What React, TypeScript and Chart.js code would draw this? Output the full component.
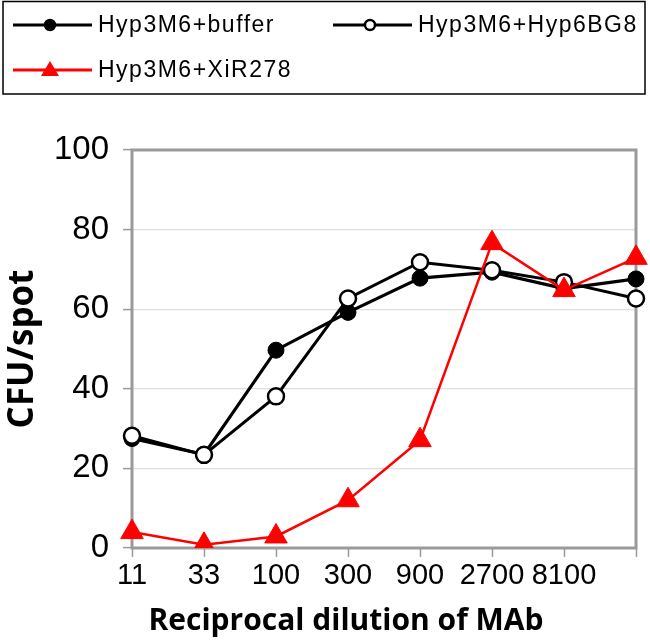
import React, { useEffect, useRef } from "react";
import { Chart, registerables } from "chart.js";

Chart.register(...registerables);

const categories = ["11", "33", "100", "300", "900", "2700", "8100", ""];
const bufferValues = [27.5, 23.5, 49.7, 59.2, 67.8, 69.3, 65.2, 67.6];
const hyp6bg8Values = [28.2, 23.4, 38.1, 62.7, 71.8, 69.8, 66.8, 62.7];
const xir278Values = [4.0, 0.8, 2.9, 12.0, 27.1, 76.6, 64.8, 72.9];
const seriesNames = ["Hyp3M6+buffer", "Hyp3M6+Hyp6BG8", "Hyp3M6+XiR278"];
const yTicks = [0, 20, 40, 60, 80, 100];
const xTitle = "Reciprocal dilution of MAb";
const yTitle = "CFU/spot";

const TICK_FONT = "'Liberation Sans', Arial, sans-serif";
const TITLE_FONT = "'Open Sans', Lato, sans-serif";

const frameAndLegend = {
  id: "frameAndLegend",
  beforeDatasetsDraw(chart: any) {
    const { ctx, chartArea } = chart;
    ctx.save();
    ctx.strokeStyle = "#9a9a9a";
    ctx.lineWidth = 3;
    ctx.strokeRect(chartArea.left, chartArea.top, chartArea.right - chartArea.left, chartArea.bottom - chartArea.top);
    ctx.restore();
  },
  afterDraw(chart: any) {
    const { ctx } = chart;
    ctx.save();
    // axis titles
    ctx.fillStyle = "#000";
    ctx.font = `bold 30px ${TITLE_FONT}`;
    ctx.textAlign = "center";
    ctx.textBaseline = "alphabetic";
    ctx.fillText(xTitle, 346, 630);
    ctx.save();
    ctx.translate(33, 349);
    ctx.rotate(-Math.PI / 2);
    ctx.font = `bold 35px ${TITLE_FONT}`;
    ctx.fillText(yTitle, 0, 0);
    ctx.restore();

    // legend box
    ctx.strokeStyle = "#000";
    ctx.lineWidth = 1.5;
    ctx.strokeRect(3, 1.5, 642, 92.5);
    const items = [
      { x: 13, y: 25, ds: 0 },
      { x: 333, y: 25, ds: 1 },
      { x: 13, y: 70, ds: 2 },
    ];
    items.forEach((it) => {
      const ds = chart.data.datasets[it.ds];
      ctx.strokeStyle = ds.borderColor;
      ctx.lineWidth = 3;
      ctx.beginPath();
      ctx.moveTo(it.x, it.y);
      ctx.lineTo(it.x + 79, it.y);
      ctx.stroke();
      const cx = it.x + 37;
      if (ds.pointStyle === "triangle") {
        ctx.fillStyle = ds.pointBackgroundColor;
        ctx.beginPath();
        ctx.moveTo(cx, it.y - 9);
        ctx.lineTo(cx + 9, it.y + 6);
        ctx.lineTo(cx - 9, it.y + 6);
        ctx.closePath();
        ctx.fill();
      } else {
        ctx.fillStyle = ds.pointBackgroundColor;
        ctx.beginPath();
        ctx.arc(cx, it.y, 5, 0, Math.PI * 2);
        ctx.fill();
        ctx.lineWidth = 2.5;
        ctx.strokeStyle = "#000";
        ctx.stroke();
      }
      ctx.fillStyle = "#000";
      ctx.font = `23px ${TICK_FONT}`;
      (ctx as any).letterSpacing = "1.5px";
      ctx.textBaseline = "middle";
      ctx.textAlign = "left";
      ctx.fillText(seriesNames[it.ds], it.x + 85, it.y + 1);
      (ctx as any).letterSpacing = "0px";
    });
    ctx.restore();
  },
};

export default function App() {
  const canvasRef = useRef<HTMLCanvasElement | null>(null);

  useEffect(() => {
    if (!canvasRef.current) return;
    const chart = new Chart(canvasRef.current, {
      type: "line",
      data: {
        labels: categories,
        datasets: [
          {
            label: seriesNames[0],
            data: bufferValues,
            borderColor: "#000000",
            backgroundColor: "#000000",
            borderWidth: 3.2,
            pointStyle: "circle",
            pointRadius: 8,
            pointBackgroundColor: "#000000",
            pointBorderColor: "#000000",
            pointBorderWidth: 1,
            tension: 0,
            order: 3,
          },
          {
            label: seriesNames[1],
            data: hyp6bg8Values,
            borderColor: "#000000",
            backgroundColor: "#ffffff",
            borderWidth: 3,
            pointStyle: "circle",
            pointRadius: 8,
            pointBackgroundColor: "#ffffff",
            pointBorderColor: "#000000",
            pointBorderWidth: 2.5,
            tension: 0,
            order: 2,
          },
          {
            label: seriesNames[2],
            data: xir278Values,
            borderColor: "#ff0000",
            backgroundColor: "#ff0000",
            borderWidth: 2.5,
            pointStyle: "triangle",
            pointRadius: 13,
            pointBackgroundColor: "#ff0000",
            pointBorderColor: "#ff0000",
            pointBorderWidth: 1,
            tension: 0,
            order: 1,
          },
        ],
      },
      options: {
        animation: false,
        responsive: false,
        maintainAspectRatio: false,
        layout: { padding: { top: 150, right: 14, bottom: 0, left: 0 } },
        plugins: {
          legend: { display: false },
          tooltip: { enabled: false },
        },
        scales: {
          x: {
            type: "category",
            offset: false,
            grid: {
              display: true,
              drawOnChartArea: false,
              drawTicks: true,
              tickLength: 9,
              tickColor: "#9a9a9a",
              tickWidth: 1.5,
            },
            border: { display: false },
            ticks: {
              color: "#000",
              font: { family: TICK_FONT, size: 29 },
              padding: 2,
              maxRotation: 0,
              autoSkip: false,
            },
            title: { display: false, text: xTitle },
            afterFit: (s: any) => {
              s.height = 93;
            },
          },
          y: {
            min: 0,
            max: 100,
            afterBuildTicks: (s: any) => {
              s.ticks = yTicks.map((v) => ({ value: v }));
            },
            grid: {
              color: "#dedede",
              lineWidth: 1.2,
              drawTicks: true,
              tickLength: 9,
              tickColor: "#9a9a9a",
              tickWidth: 1.5,
            },
            border: { display: false },
            ticks: {
              color: "#000",
              font: { family: TICK_FONT, size: 33 },
              padding: 14,
            },
            title: { display: false, text: yTitle },
            afterFit: (s: any) => {
              s.width = 132;
            },
          },
        },
      },
      plugins: [frameAndLegend],
    });
    return () => chart.destroy();
  }, []);

  return (
    <div style={{ position: "absolute", left: 0, top: 0, width: 650, height: 641, background: "#fff" }}>
      <canvas ref={canvasRef} width={650} height={641} style={{ width: 650, height: 641, display: "block" }} />
    </div>
  );
}
